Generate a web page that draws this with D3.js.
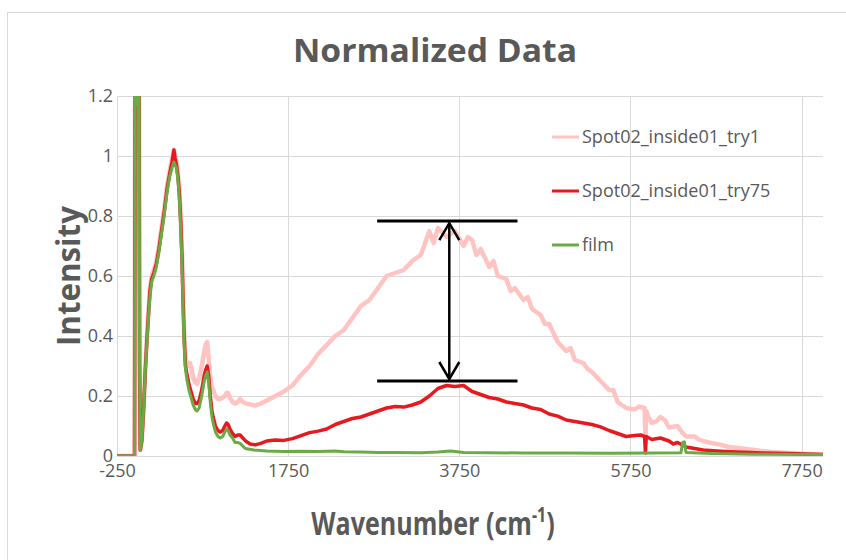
<!DOCTYPE html>
<html>
<head>
<meta charset="utf-8">
<script src="https://cdn.jsdelivr.net/npm/d3@7"></script>
<style>
  body { margin: 0; background: #fff; }
  svg { display: block; }
</style>
</head>
<body>
<svg id="chart" width="846" height="560"></svg>
<script>
// ticks
const xTicks = [-250, 1750, 3750, 5750, 7750];
const yTicks = [0, 0.2, 0.4, 0.6, 0.8, 1, 1.2];

const seriesNames = ['Spot02_inside01_try1', 'Spot02_inside01_try75', 'film'];

// [wavenumber, intensity]
const try1 = [
  [-250, 0], [-45, 0], [-38, 1.3], [-20, 1.3], [-12, 1.17], [-5, 1.3], [8, 1.3], [14, 0.3], [22, 0.02],
  [40, 0.05], [60, 0.15], [80, 0.29], [100, 0.4], [115, 0.47], [135, 0.56], [155, 0.6], [180, 0.62],
  [210, 0.65], [240, 0.7], [270, 0.76], [300, 0.82], [335, 0.9], [365, 0.95], [393, 0.99], [415, 1.02],
  [430, 1.0], [445, 0.98], [463, 0.94], [480, 0.88], [495, 0.8], [510, 0.68], [522, 0.55], [534, 0.42],
  [550, 0.33], [569, 0.3], [590, 0.31], [604, 0.31], [620, 0.29], [640, 0.26], [665, 0.245], [686, 0.24],
  [710, 0.26], [740, 0.3], [770, 0.35], [790, 0.375], [803, 0.38], [820, 0.33], [840, 0.26], [860, 0.23],
  [873, 0.22], [900, 0.2], [930, 0.19], [955, 0.19], [985, 0.195], [1010, 0.2], [1030, 0.21], [1048, 0.21],
  [1070, 0.195], [1100, 0.18], [1130, 0.175], [1160, 0.18], [1189, 0.19], [1220, 0.18], [1260, 0.175],
  [1306, 0.172], [1364, 0.168], [1430, 0.175], [1500, 0.185], [1600, 0.2], [1700, 0.215], [1800, 0.235],
  [1900, 0.27], [2000, 0.3], [2100, 0.34], [2200, 0.37], [2300, 0.4], [2400, 0.42], [2500, 0.46],
  [2600, 0.5], [2700, 0.52], [2800, 0.56], [2900, 0.6], [3000, 0.61], [3100, 0.62], [3200, 0.65],
  [3300, 0.67], [3400, 0.75], [3450, 0.71], [3500, 0.76], [3600, 0.73], [3700, 0.75], [3800, 0.7],
  [3850, 0.73], [3900, 0.72], [3950, 0.67], [4000, 0.69], [4100, 0.63], [4150, 0.65], [4200, 0.6],
  [4300, 0.59], [4350, 0.55], [4400, 0.56], [4500, 0.52], [4550, 0.53], [4600, 0.49], [4700, 0.47],
  [4750, 0.44], [4800, 0.44], [4900, 0.38], [5000, 0.35], [5050, 0.36], [5100, 0.32], [5200, 0.31],
  [5250, 0.29], [5300, 0.28], [5400, 0.25], [5500, 0.22], [5550, 0.22], [5600, 0.18], [5700, 0.16],
  [5800, 0.155], [5850, 0.165], [5915, 0.16], [5925, 0.06], [5935, 0.15], [5960, 0.13], [6000, 0.11],
  [6050, 0.115], [6100, 0.13], [6150, 0.12], [6200, 0.095], [6300, 0.1], [6350, 0.08], [6400, 0.065],
  [6500, 0.065], [6550, 0.055], [6600, 0.05], [6700, 0.043], [6800, 0.038], [6900, 0.03], [7000, 0.027],
  [7200, 0.02], [7400, 0.013], [7600, 0.01], [7800, 0.007], [8000, 0.005]
];

const try75 = [
  [-250, 0], [-45, 0], [-38, 1.3], [-20, 1.3], [-12, 1.17], [-5, 1.3], [8, 1.3], [14, 0.3], [22, 0.02],
  [40, 0.05], [60, 0.15], [80, 0.28], [100, 0.39], [115, 0.46], [135, 0.55], [155, 0.59], [180, 0.61],
  [210, 0.64], [240, 0.69], [270, 0.75], [300, 0.81], [335, 0.89], [365, 0.94], [393, 0.98], [415, 1.02],
  [430, 0.99], [445, 0.97], [463, 0.93], [480, 0.87], [495, 0.78], [510, 0.66], [522, 0.52], [534, 0.4],
  [550, 0.3], [569, 0.27], [590, 0.24], [610, 0.22], [640, 0.19], [665, 0.175], [686, 0.175], [710, 0.185],
  [740, 0.22], [770, 0.27], [790, 0.29], [803, 0.3], [820, 0.27], [840, 0.2], [860, 0.15], [873, 0.13],
  [900, 0.1], [930, 0.085], [955, 0.08], [985, 0.085], [1010, 0.1], [1030, 0.11], [1048, 0.105],
  [1070, 0.09], [1100, 0.075], [1130, 0.065], [1160, 0.07], [1189, 0.07], [1220, 0.06], [1260, 0.048],
  [1306, 0.04], [1364, 0.037], [1430, 0.042], [1500, 0.05], [1600, 0.053], [1700, 0.052], [1800, 0.058],
  [1900, 0.068], [2000, 0.078], [2100, 0.083], [2200, 0.09], [2300, 0.105], [2400, 0.115], [2500, 0.125],
  [2600, 0.13], [2700, 0.14], [2800, 0.15], [2900, 0.16], [3000, 0.165], [3100, 0.163], [3200, 0.17],
  [3300, 0.18], [3400, 0.2], [3500, 0.225], [3600, 0.235], [3700, 0.232], [3800, 0.235], [3900, 0.215],
  [4000, 0.205], [4100, 0.195], [4200, 0.19], [4300, 0.18], [4400, 0.175], [4500, 0.17], [4600, 0.16],
  [4700, 0.155], [4800, 0.14], [4900, 0.133], [5000, 0.12], [5100, 0.115], [5200, 0.11], [5300, 0.105],
  [5400, 0.097], [5500, 0.085], [5600, 0.075], [5700, 0.065], [5800, 0.068], [5870, 0.07], [5915, 0.065],
  [5925, 0.01], [5935, 0.065], [6000, 0.055], [6100, 0.06], [6200, 0.05], [6250, 0.04], [6300, 0.045],
  [6400, 0.03], [6500, 0.025], [6600, 0.02], [6800, 0.016], [7000, 0.013], [7300, 0.01], [7600, 0.008],
  [8000, 0.005]
];

const film = [
  [-250, 0], [-45, 0], [-38, 1.3], [-20, 1.3], [-12, 1.17], [-5, 1.3], [8, 1.3], [14, 0.3], [22, 0.02],
  [40, 0.05], [60, 0.15], [80, 0.28], [100, 0.38], [115, 0.45], [135, 0.53], [155, 0.58], [180, 0.6],
  [210, 0.63], [240, 0.68], [270, 0.74], [300, 0.8], [335, 0.88], [365, 0.93], [393, 0.96], [415, 0.98],
  [430, 0.97], [445, 0.96], [463, 0.92], [480, 0.85], [495, 0.75], [510, 0.64], [522, 0.5], [534, 0.38],
  [550, 0.29], [569, 0.25], [590, 0.22], [610, 0.2], [640, 0.17], [665, 0.155], [686, 0.15], [710, 0.16],
  [740, 0.2], [770, 0.25], [790, 0.27], [803, 0.28], [820, 0.25], [840, 0.18], [860, 0.13], [873, 0.11],
  [900, 0.08], [930, 0.065], [955, 0.06], [985, 0.065], [1010, 0.08], [1030, 0.09], [1048, 0.085],
  [1070, 0.07], [1100, 0.06], [1130, 0.045], [1160, 0.045], [1189, 0.042], [1250, 0.025], [1350, 0.02],
  [1500, 0.017], [1700, 0.015], [1900, 0.016], [2100, 0.015], [2300, 0.017], [2400, 0.014], [2600, 0.013],
  [2800, 0.012], [3000, 0.012], [3300, 0.011], [3500, 0.013], [3650, 0.017], [3800, 0.012], [4100, 0.011],
  [4500, 0.01], [5000, 0.01], [5500, 0.009], [6000, 0.01], [6340, 0.011], [6360, 0.045], [6380, 0.047],
  [6400, 0.012], [6700, 0.008], [7200, 0.006], [8000, 0.005]
];

const seriesData = [try1, try75, film];
const seriesColors = ['#ffc4c2', '#e8191e', '#6aab45'];
const seriesWidths = [4.5, 3.5, 3];

// arrow annotation: [x from, x to, arrow x, top value, bottom value]
const gapBar = [2790, 4430, 3633, 0.783, 0.25];

const svg = d3.select('#chart');
const width = 846;
const height = 560;
const plot = { left: 117, right: 823, top: 96, bottom: 456 };
const textColor = '#595959';
const gridColor = '#d9d9d9';

svg.append('rect')
  .attr('x', 7.5).attr('y', 12.5)
  .attr('width', width + 10).attr('height', height + 10)
  .attr('fill', '#fff')
  .attr('stroke', gridColor);

const x = d3.scaleLinear().domain([-250, 8000]).range([plot.left, plot.right]);
const y = d3.scaleLinear().domain([0, 1.2]).range([plot.bottom, plot.top]);

// grid
svg.append('g')
  .selectAll('line.h')
  .data(yTicks)
  .join('line')
  .attr('x1', plot.left).attr('x2', plot.right)
  .attr('y1', (d) => Math.round(y(d)) + 0.5).attr('y2', (d) => Math.round(y(d)) + 0.5)
  .attr('stroke', gridColor);
svg.append('g')
  .selectAll('line.v')
  .data(xTicks)
  .join('line')
  .attr('x1', (d) => Math.round(x(d)) + 0.5).attr('x2', (d) => Math.round(x(d)) + 0.5)
  .attr('y1', plot.top).attr('y2', plot.bottom)
  .attr('stroke', gridColor);

// axes
const xAxis = svg.append('g')
  .attr('transform', `translate(0,${plot.bottom})`)
  .call(d3.axisBottom(x).tickValues(xTicks).tickSize(0).tickPadding(8).tickFormat((d) => d));
const yAxis = svg.append('g')
  .attr('transform', `translate(${plot.left},0)`)
  .call(d3.axisLeft(y).tickValues(yTicks).tickSize(0).tickPadding(4).tickFormat(d3.format('')));
[xAxis, yAxis].forEach((g) => {
  g.select('.domain').remove();
  g.selectAll('text')
    .attr('fill', textColor)
    .attr('font-family', 'Open Sans, sans-serif')
    .attr('font-size', 18);
});

// lines
svg.append('clipPath').attr('id', 'plot-clip')
  .append('rect')
  .attr('x', plot.left).attr('y', plot.top)
  .attr('width', plot.right - plot.left).attr('height', plot.bottom - plot.top);

const line = d3.line().x((d) => x(d[0])).y((d) => y(d[1]));
svg.append('g')
  .attr('clip-path', 'url(#plot-clip)')
  .selectAll('path')
  .data(seriesData)
  .join('path')
  .attr('d', line)
  .attr('fill', 'none')
  .attr('stroke', (d, i) => seriesColors[i])
  .attr('stroke-width', (d, i) => seriesWidths[i])
  .attr('stroke-linejoin', 'round');

// legend
const legend = svg.append('g')
  .selectAll('g')
  .data(seriesNames)
  .join('g')
  .attr('transform', (d, i) => `translate(552,${137 + i * 54})`);
legend.append('line')
  .attr('x1', 0).attr('x2', 27)
  .attr('stroke', (d, i) => seriesColors[i])
  .attr('stroke-width', 3);
legend.append('text')
  .attr('x', 30)
  .attr('dy', '0.35em')
  .attr('fill', textColor)
  .attr('font-family', 'Open Sans, sans-serif')
  .attr('font-size', 18)
  .text((d) => d);

// gap annotation
const [gx0, gx1, gxa, gTop, gBottom] = gapBar;
const ann = svg.append('g').attr('stroke', '#000').attr('fill', 'none');
[gTop, gBottom].forEach((v) => {
  ann.append('line')
    .attr('x1', x(gx0)).attr('x2', x(gx1))
    .attr('y1', y(v)).attr('y2', y(v))
    .attr('stroke-width', 3);
});
ann.append('line')
  .attr('x1', x(gxa)).attr('x2', x(gxa))
  .attr('y1', y(gTop) + 2).attr('y2', y(gBottom) - 2)
  .attr('stroke-width', 2.5);
ann.append('path')
  .attr('d', `M${x(gxa) - 10},${y(gTop) + 19}L${x(gxa)},${y(gTop) + 2}L${x(gxa) + 10},${y(gTop) + 19}`)
  .attr('stroke-width', 2.5);
ann.append('path')
  .attr('d', `M${x(gxa) - 10},${y(gBottom) - 19}L${x(gxa)},${y(gBottom) - 2}L${x(gxa) + 10},${y(gBottom) - 19}`)
  .attr('stroke-width', 2.5);

// titles
svg.append('text')
  .attr('x', 435).attr('y', 62)
  .attr('text-anchor', 'middle')
  .attr('fill', textColor)
  .attr('font-family', 'Open Sans, sans-serif')
  .attr('font-weight', 700)
  .attr('font-size', 33)
  .attr('textLength', 284)
  .attr('lengthAdjust', 'spacingAndGlyphs')
  .text('Normalized Data');

svg.append('text')
  .attr('transform', 'translate(80,276) rotate(-90)')
  .attr('text-anchor', 'middle')
  .attr('fill', textColor)
  .attr('font-family', 'Open Sans, sans-serif')
  .attr('font-weight', 700)
  .attr('font-size', 33)
  .attr('textLength', 140)
  .attr('lengthAdjust', 'spacingAndGlyphs')
  .text('Intensity');

const xTitle = svg.append('text')
  .attr('transform', 'translate(433,535) scale(0.76,1)')
  .attr('text-anchor', 'middle')
  .attr('fill', textColor)
  .attr('font-family', 'Open Sans, sans-serif')
  .attr('font-weight', 700)
  .attr('font-size', 33);
xTitle.append('tspan').text('Wavenumber (cm');
xTitle.append('tspan').attr('dy', -13).attr('font-size', 21).text('-1');
xTitle.append('tspan').attr('dy', 13).text(')');
</script>
</body>
</html>
